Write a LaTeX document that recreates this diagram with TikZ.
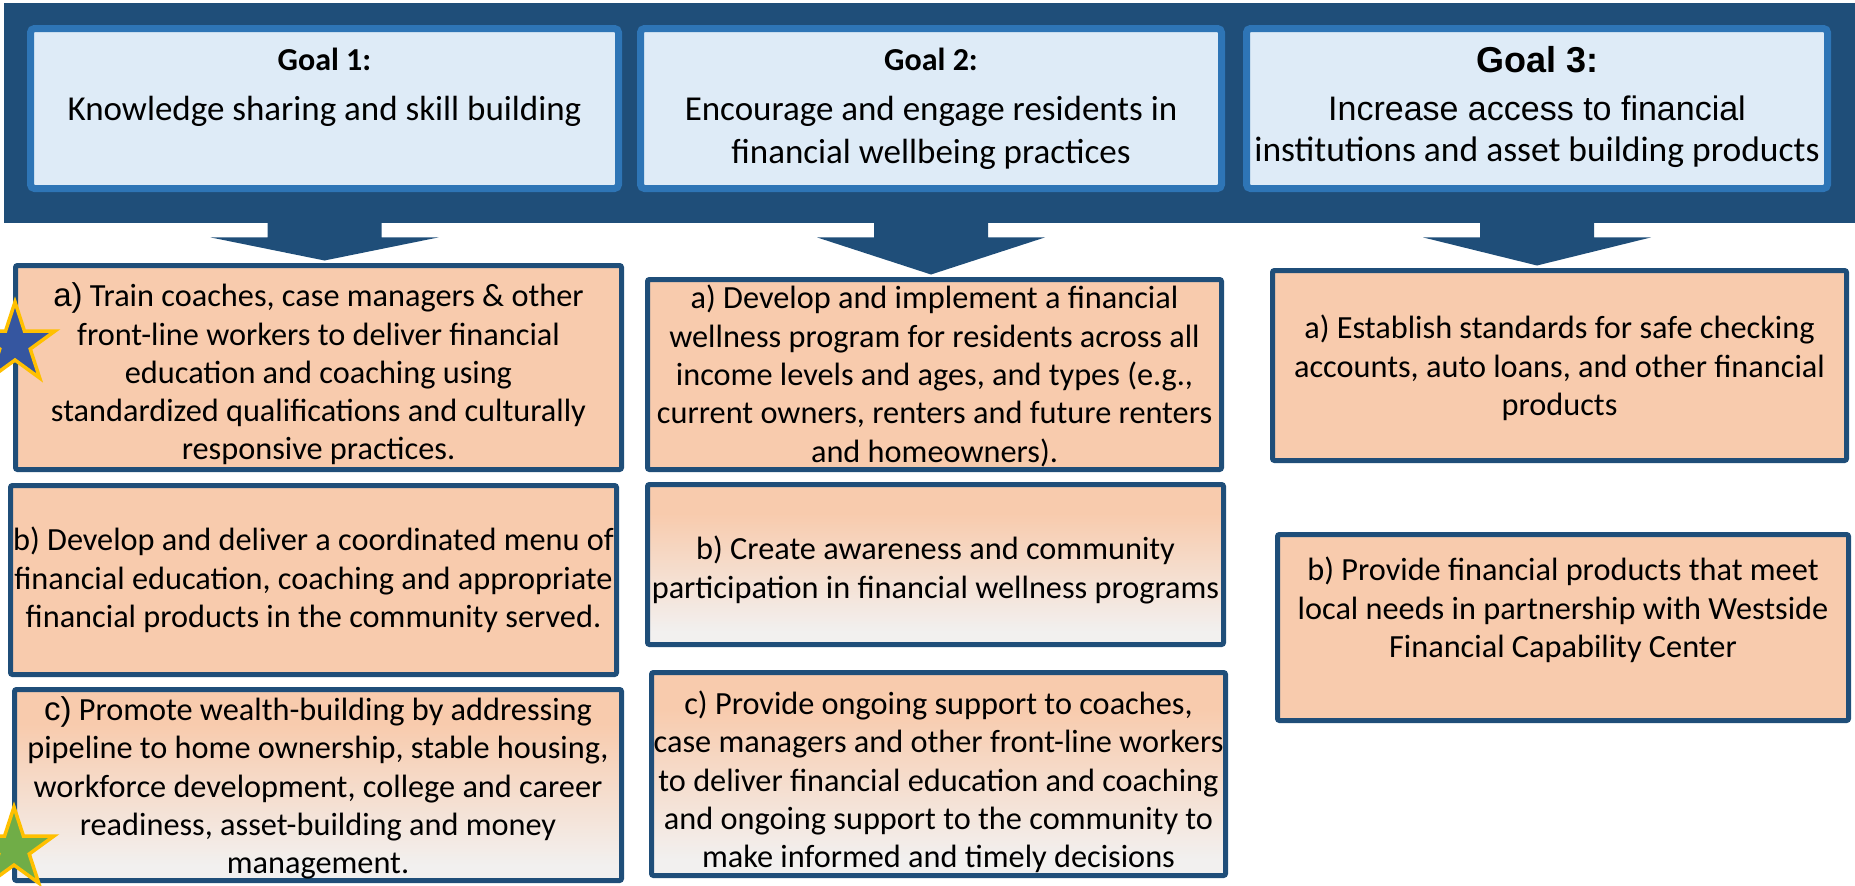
\documentclass[tikz,border=0pt]{standalone}
\usepackage{fontspec}
\setmainfont{Carlito}
\newfontfamily\arialfont{Liberation Sans}
\usetikzlibrary{shapes.geometric,calc}

\definecolor{navy}{HTML}{1F4E79}
\definecolor{goaledge}{HTML}{2E75B6}
\definecolor{goalfill}{HTML}{DEEBF7}
\definecolor{peach}{HTML}{F8CBAD}
\definecolor{fadegray}{HTML}{F2F0EF}
\definecolor{stargold}{HTML}{FFC000}
\definecolor{starblue}{HTML}{3556A0}
\definecolor{stargreen}{HTML}{70AD47}

% peach at the top, fading to pale grey at the bottom
\pgfdeclareverticalshading{peachfade}{100bp}{color(0bp)=(fadegray); color(25bp)=(fadegray); color(29bp)=(fadegray); color(66bp)=(peach); color(75bp)=(peach); color(100bp)=(peach)}

\tikzset{
  banner/.style={fill=navy, inner sep=0pt, anchor=north west},
  goalbox/.style={draw=goaledge, fill=goalfill, line width=7pt, rounded corners=4pt, inner sep=0pt},
  outbox/.style={draw=navy, fill=peach, line width=5pt, rounded corners=2pt, inner sep=0pt},
  fadebox/.style={draw=navy, line width=5pt, rounded corners=2pt, inner sep=0pt, shade, shading=peachfade},
  bodytext/.style={align=center, inner sep=0pt, font=\fontsize{32.3}{38.3}\selectfont},
  goalhead/.style={anchor=base, inner sep=0pt, font=\fontsize{32}{36}\selectfont\bfseries},
  goalline/.style={anchor=base, inner sep=0pt, font=\fontsize{35}{40}\selectfont},
  blockarrow/.style={fill=navy},
  starmark/.style={star, star points=5, star point ratio=2.618, minimum size=84pt, inner sep=0pt, draw=stargold, line width=3.5pt},
}

% box from outer corners: name, x1, y1, x2, y2, style
\newcommand\outerbox[6]{%
  \node[#6, minimum width={#4-#2-5}, minimum height={#5-#3-5}] (#1) at ({(#2+#4)/2},{(#3+#5)/2}) {};}
\newcommand\goalframe[5]{%
  \node[goalbox, minimum width={#4-#2-7}, minimum height={#5-#3-7}] (#1) at ({(#2+#4)/2},{(#3+#5)/2}) {};}

\begin{document}
\begin{tikzpicture}[x=1pt, y=-1pt]
\useasboundingbox (0,0) rectangle (1855,886);

% top banner with the three goals
\node[banner, minimum width=1851, minimum height=220] (banner) at (4,3) {};
\goalframe{g1}{27}{25}{622}{192}
\goalframe{g2}{637}{25}{1225}{192}
\goalframe{g3}{1243}{25}{1831}{192}

\node[goalhead] (g1h) at (324.5,70) {Goal 1:};
\node[goalline] (g1t) at (324.5,120) {Knowledge sharing and skill building};

\node[goalhead] (g2h) at (931,70) {Goal 2:};
\node[goalline] (g2t) at (931,120) {Encourage and engage residents in};
\node[goalline] (g2u) at (931,163) {financial wellbeing practices};

\node[goalhead, font=\fontsize{36}{40}\selectfont\arialfont\bfseries] (g3h) at (1537,72) {Goal 3:};
\node[goalline, font=\fontsize{34}{40}\selectfont\arialfont] (g3t) at (1537,120) {Increase access to financial};
\node[goalline, font=\fontsize{35.5}{40}\selectfont] (g3u) at (1537,161) {institutions and asset building products};

% outcome boxes
\outerbox{c1a}{13}{263}{624}{472}{outbox}
\outerbox{c1b}{8}{483}{619}{677}{outbox}
\outerbox{c1c}{12}{687}{624}{883}{fadebox}
\outerbox{c2a}{645}{277}{1224}{472}{outbox}
\outerbox{c2b}{645}{482}{1226}{647}{fadebox}
\outerbox{c2c}{649}{670}{1228}{878}{fadebox}
\outerbox{c3a}{1270}{268}{1849}{463}{outbox}
\outerbox{c3b}{1275}{532}{1851}{723}{outbox}

\node[bodytext] (t1a) at (318.5,374) {{\arialfont\fontsize{33}{38}\selectfont a)} Train coaches, case managers \& other\\front-line workers to deliver financial\\education and coaching using\\standardized qualifications and culturally\\responsive practices.};
\node[bodytext] (t1b) at (313.5,580) {b) Develop and deliver a coordinated menu of\\financial education, coaching and appropriate\\financial products in the community served.};
\node[bodytext] (t1c) at (318,788) {{\arialfont\fontsize{33}{38}\selectfont c)} Promote wealth-building by addressing\\pipeline to home ownership, stable housing,\\workforce development, college and career\\readiness, asset-building and money\\management.};

\node[bodytext] (t2a) at (934.5,376) {a) Develop and implement a financial\\wellness program for residents across all\\income levels and ages, and types (e.g.,\\current owners, renters and future renters\\and homeowners).};
\node[bodytext] (t2b) at (935.5,570) {b) Create awareness and community\\participation in financial wellness programs};
\node[bodytext] (t2c) at (938.5,782) {c) Provide ongoing support to coaches,\\case managers and other front-line workers\\to deliver financial education and coaching\\and ongoing support to the community to\\make informed and timely decisions};

\node[bodytext] (t3a) at (1559.5,368) {a) Establish standards for safe checking\\accounts, auto loans, and other financial\\products};
\node[bodytext] (t3b) at (1563,610) {b) Provide financial products that meet\\local needs in partnership with Westside\\Financial Capability Center};

% block arrows from the banner down to the first box of each column
\foreach \g/\b in {g1/c1a, g2/c2a, g3/c3a}{
  \fill[blockarrow]
    ($(\g.south |- banner.south)+(-57,-2)$) --
    ($(\g.south |- banner.south)+(-57,14)$) --
    ($(\g.south |- banner.south)+(-114,14)$) --
    ($(\g.south |- \b.north)+(0,-2.5)$) --
    ($(\g.south |- banner.south)+(114,14)$) --
    ($(\g.south |- banner.south)+(57,14)$) --
    ($(\g.south |- banner.south)+(57,-2)$) -- cycle;
}

% priority stars
\node[starmark, fill=starblue] (s1) at (15,344) {};
\node[starmark, fill=stargreen] (s2) at (14,849) {};
\end{tikzpicture}
\end{document}
